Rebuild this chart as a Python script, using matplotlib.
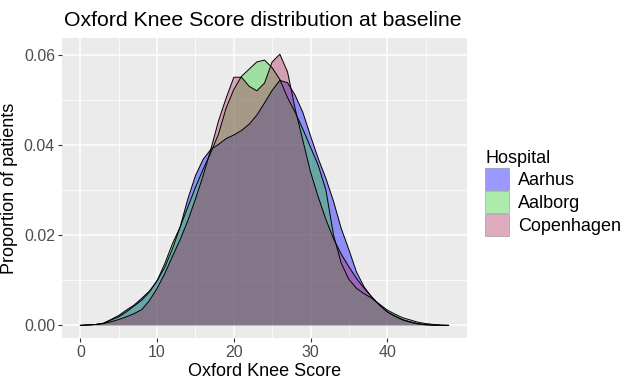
# Oxford Knee Score density por hospital
import numpy as np
import matplotlib.pyplot as plt
from matplotlib.patches import Patch

plt.rcParams['font.family'] = ['Liberation Sans', 'DejaVu Sans']

# Valores (densidad estimada, un punto por unidad)
score = list(range(0, 49))
aarhus = [0.0, 0.0001, 0.0002, 0.0005, 0.0013, 0.0022, 0.0034, 0.0045, 0.0060, 0.0076,
          0.0099, 0.0129, 0.0170, 0.0218, 0.0280, 0.0332, 0.0368, 0.0390, 0.0401, 0.0414,
          0.0422, 0.0432, 0.0446, 0.0466, 0.0493, 0.0521, 0.0543, 0.0538, 0.0510, 0.0472,
          0.0420, 0.0370, 0.0326, 0.0275, 0.0215, 0.0168, 0.0118, 0.0085, 0.0062, 0.0045,
          0.0030, 0.0021, 0.0013, 0.0008, 0.0004, 0.0002, 0.0001, 0.0, 0.0]
aalborg = [0.0, 0.0001, 0.0002, 0.0004, 0.0012, 0.0019, 0.0030, 0.0043, 0.0056, 0.0074,
           0.0099, 0.0137, 0.0181, 0.0218, 0.0262, 0.0306, 0.0346, 0.0383, 0.0424, 0.0482,
           0.0523, 0.0552, 0.0568, 0.0584, 0.0588, 0.0571, 0.0545, 0.0505, 0.0472, 0.0435,
           0.0395, 0.0355, 0.0300, 0.0200, 0.0138, 0.0102, 0.0082, 0.0070, 0.0060, 0.0047,
           0.0034, 0.0025, 0.0017, 0.0012, 0.0007, 0.0004, 0.0002, 0.0001, 0.0]
copenhagen = [0.0, 0.0001, 0.0002, 0.0004, 0.0008, 0.0013, 0.0019, 0.0026, 0.0035, 0.0055,
              0.0082, 0.0115, 0.0153, 0.0190, 0.0232, 0.0280, 0.0332, 0.0390, 0.0453, 0.0504,
              0.0550, 0.0550, 0.0530, 0.0520, 0.0537, 0.0584, 0.0601, 0.0562, 0.0480, 0.0410,
              0.0340, 0.0285, 0.0235, 0.0192, 0.0158, 0.0130, 0.0104, 0.0082, 0.0063, 0.0045,
              0.0030, 0.0020, 0.0012, 0.0007, 0.0003, 0.0001, 0.0, 0.0, 0.0]

hospitales = ['Aarhus', 'Aalborg', 'Copenhagen']
colores = ['#0000FF', '#32CD32', '#B03060']

fig = plt.figure(figsize=(6.24, 3.81), dpi=100)
ax = fig.add_axes([62/624, 1 - 338/381, (467 - 62)/624, (338 - 38)/381])
ax.set_facecolor('#EBEBEB')

for serie, col in zip([aarhus, aalborg, copenhagen], colores):
    ax.fill_between(score, serie, 0, facecolor=col, alpha=0.4, edgecolor='none')
    ax.plot(score, serie, color='black', lw=0.7)

ax.set_xlim(-2.4, 50.4)
ax.set_ylim(-0.0028, 0.0637)
ax.set_xticks([0, 10, 20, 30, 40])
ax.set_xticks([5, 15, 25, 35, 45], minor=True)
ax.set_yticks([0, 0.02, 0.04, 0.06])
ax.set_yticks([0.01, 0.03, 0.05], minor=True)
ax.set_yticklabels(['0.00', '0.02', '0.04', '0.06'])
ax.grid(which='major', color='white', lw=1.1)
ax.grid(which='minor', color='white', lw=0.55)
ax.set_axisbelow(True)
for s in ax.spines.values():
    s.set_visible(False)
ax.tick_params(which='major', length=3, color='#333333', labelsize=11.5,
               labelcolor='#4D4D4D', pad=2)
ax.tick_params(which='minor', length=0)

ax.set_xlabel('Oxford Knee Score', fontsize=13, labelpad=2)
ax.set_ylabel('Proportion of patients', fontsize=13, labelpad=4)
fig.text(64/624, 1 - 21/381, 'Oxford Knee Score distribution at baseline',
         fontsize=15.3, va='center', ha='left')

# Leyenda
handles = [Patch(facecolor=c, alpha=0.4, edgecolor='#555555', lw=0.6) for c in colores]
leg = fig.legend(handles, hospitales, title='Hospital', loc='upper left',
                 bbox_to_anchor=(478/624, 1 - 143/381), frameon=False,
                 fontsize=13, title_fontsize=13, handlelength=1.3, handleheight=1.5,
                 handletextpad=0.5, labelspacing=0.05, borderaxespad=0)
leg._legend_box.align = 'left'

fig.savefig('out.png', dpi=100)
